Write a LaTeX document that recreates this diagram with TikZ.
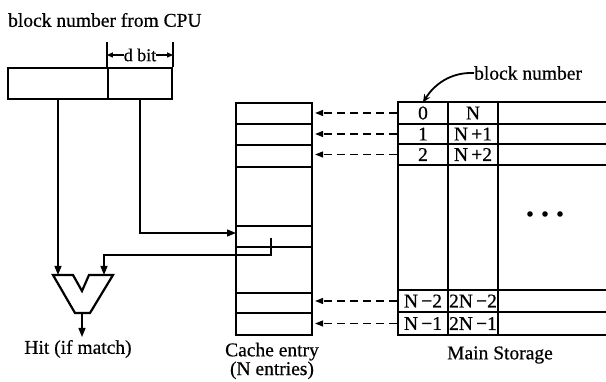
\documentclass[tikz,border=0pt]{standalone}
\usepackage{fontspec}
\setmainfont{Liberation Serif}[FakeBold=0.5]
\usetikzlibrary{arrows.meta}
\begin{document}
\begin{tikzpicture}[x=1pt,y=-1pt,
  thickline/.style={line width=2.2pt},
  thinline/.style={line width=1.4pt},
  lbl/.style={font=\fontsize{19.5}{17}\selectfont, inner sep=0pt},
  cell/.style={font=\fontsize{19.5}{20}\selectfont, inner sep=0pt, minimum width=50pt, minimum height=21pt},
  arr/.style={-{Triangle[length=9pt,width=7pt]}, line width=1.4pt},
  sarr/.style={-{Triangle[length=6pt,width=5pt]}, line width=1.2pt},
  darr/.style={-{Triangle[length=8pt,width=6pt]}, line width=1.4pt, dash pattern=on 8pt off 5pt, shorten <=1pt, shorten >=2pt},
]
\useasboundingbox (0,0) rectangle (606,382);

% title
\node[lbl, anchor=west] (title) at (8,20) {block number from CPU};

% register
\node[draw, thickline, minimum width=100pt, minimum height=31pt, inner sep=0pt] (regL) at (58,83.5) {};
\node[draw, thickline, minimum width=64pt, minimum height=31pt, inner sep=0pt] (regR) at (140,83.5) {};

% d bit
\draw[thinline] (regR.north west) -- ++(0,-25);
\draw[thinline] (regR.north east) -- ++(0,-25);
\node[lbl, font=\fontsize{18}{18}\selectfont] (dbit) at (140,55) {d bit};
\draw[sarr] (dbit.west) -- (dbit.west -| regR.west);
\draw[sarr] (dbit.east) -- (dbit.east -| regR.east);

% cache
\node[draw, thickline, minimum width=76pt, minimum height=232pt, inner sep=0pt] (cache) at (274,219) {};
\foreach \y in {124,145,167,226,247,293,313}
  \draw[thinline] (236,\y) -- (312,\y);

% comparator
\coordinate (cmpL) at (58,275);
\coordinate (cmpR) at (104,275);
\coordinate (cmpO) at (82,313);
\coordinate (hitend) at (82,337);
\draw[thickline, line join=miter] (53,275) -- (73,275) -- (82,291) -- (89,275) -- (113,275) -- (90,313) -- (75,313) -- cycle;
\draw[arr] (cmpO) -- (hitend);
\node[lbl] (hit) at (78,349) {Hit (if match)};

% connectors
\draw[arr] (regL.south) -- (cmpL);
\coordinate (tag) at (271,238);
\coordinate (tagbend) at (271,255);
\draw[arr] (tag) -- (tagbend) -| (cmpR);
\coordinate (cacheIn) at (236,233);
\draw[arr] (regR.south) |- (cacheIn);

% main storage
\draw[thickline] (606,102) -- (398,102) -- (398,335) -- (606,335);
\draw[thinline] (448,102) -- (448,335);
\draw[thinline] (498,102) -- (498,335);
\foreach \y in {124,144,165,290,312}
  \draw[thinline] (398,\y) -- (606,\y);

\node[cell] (m0) at (423,113) {0};
\node[cell] (n0) at (473,113) {N};
\node[cell] (m1) at (423,134) {1};
\node[cell] (n1) at (473,134) {N\,+1};
\node[cell] (m2) at (423,154.5) {2};
\node[cell] (n2) at (473,154.5) {N\,+2};
\node[cell] (m3) at (423,301) {N\,−2};
\node[cell] (n3) at (473,301) {2N\,−2};
\node[cell] (m4) at (423,323.5) {N\,−1};
\node[cell] (n4) at (473,323.5) {2N\,−1};

\foreach \i in {0,...,4}
  \draw[darr] (m\i.west) -- (m\i.west -| cache.east);

% dots
\fill (530,214) circle[radius=2.8pt];
\fill (545,214) circle[radius=2.8pt];
\fill (560,214) circle[radius=2.8pt];

% block number label
\node[lbl, anchor=west] (bn) at (474,73) {block number};
\draw[-{Stealth[length=8pt,width=7pt]}, line width=1.8pt] (bn.west) .. controls (450,72) and (434,85) .. (m0.north);

% captions
\node[lbl, align=center] (cachelbl) at (272,361) {Cache entry\\(N entries)};
\node[lbl] (mslbl) at (500,355) {Main Storage};
\end{tikzpicture}
\end{document}
